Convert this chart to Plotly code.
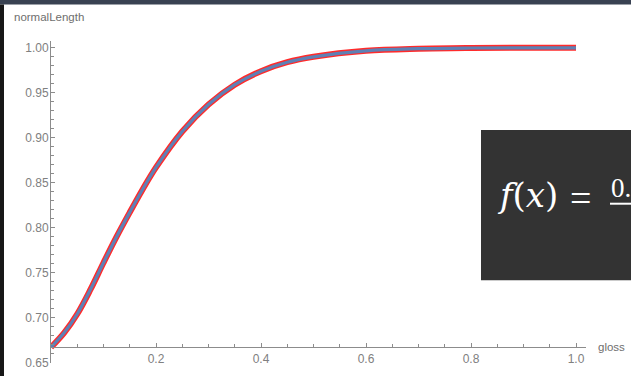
import plotly.graph_objects as go

# Data
gloss = [0.0, 0.025, 0.05, 0.075, 0.1, 0.125, 0.15, 0.175, 0.2, 0.25, 0.3, 0.35, 0.4, 0.45,
         0.5, 0.6, 0.7, 0.8, 0.9, 1.0]
normal_length = [0.667, 0.683, 0.704, 0.731, 0.761, 0.790, 0.817, 0.843, 0.867, 0.907,
                 0.937, 0.959, 0.974, 0.984, 0.990, 0.9967, 0.999, 0.9998, 1.000, 1.000]
x_ticks = [0.2, 0.4, 0.6, 0.8, 1.0]
x_tick_labels = ["0.2", "0.4", "0.6", "0.8", "1.0"]
y_ticks = [0.65, 0.70, 0.75, 0.80, 0.85, 0.90, 0.95, 1.00]
y_tick_labels = ["0.65", "0.70", "0.75", "0.80", "0.85", "0.90", "0.95", "1.00"]

W, H = 631, 383
def px(x):
    return x / W
def py(y):
    return 1 - y / H

fig = go.Figure()
fig.add_trace(go.Scatter(x=gloss, y=normal_length, mode="lines",
                         line=dict(color="rgba(255,20,20,0.9)", width=6, shape="spline", smoothing=1.0),
                         hoverinfo="skip", showlegend=False))
fig.add_trace(go.Scatter(x=gloss, y=normal_length, mode="lines",
                         line=dict(color="#5e81b5", width=3.2, shape="spline", smoothing=1.0),
                         showlegend=False))

axis_col = "#8c8c8c"
lab_font = dict(family="Liberation Sans, Arial", size=12, color="#808080")

fig.update_layout(
    width=W, height=H, autosize=False,
    margin=dict(l=0, r=0, t=0, b=0, pad=0),
    paper_bgcolor="white", plot_bgcolor="white",
    xaxis=dict(domain=[px(51), px(586)], range=[0, 535 / 525], anchor="free",
               position=py(353.3), showgrid=False, zeroline=False,
               showline=True, linecolor=axis_col, linewidth=1,
               tickmode="array", tickvals=x_ticks, ticktext=x_tick_labels,
               ticks="inside", ticklen=4, tickcolor=axis_col, tickfont=lab_font,
               ticklabelstandoff=1,
               minor=dict(dtick=0.05, tick0=0, ticks="inside", ticklen=2.5, tickcolor=axis_col)),
    yaxis=dict(domain=[py(369.3), py(42)], range=[0.65, 0.65 + (369.3 - 42) / 916],
               anchor="x", showgrid=False, zeroline=False,
               showline=True, linecolor=axis_col, linewidth=1,
               tickmode="array", tickvals=y_ticks, ticktext=y_tick_labels,
               ticks="inside", ticklen=4, tickcolor=axis_col, tickfont=lab_font,
               ticklabelstandoff=-1,
               minor=dict(dtick=0.01, tick0=0.65, ticks="inside", ticklen=2.5, tickcolor=axis_col)),
    shapes=[
        dict(type="rect", xref="paper", yref="paper", x0=0, x1=1, y0=py(4.5), y1=1,
             fillcolor="#394252", line=dict(width=0), layer="above"),
        dict(type="rect", xref="paper", yref="paper", x0=0, x1=px(4), y0=0, y1=py(4.5),
             fillcolor="#171717", line=dict(width=0), layer="above"),
        dict(type="rect", xref="paper", yref="paper", x0=px(481), x1=1, y0=py(285.5), y1=py(132.5),
             fillcolor="#333333", line=dict(width=0), layer="above"),
        dict(type="line", xref="paper", yref="paper", x0=px(610), x1=1, y0=py(207.5), y1=py(207.5),
             line=dict(color="white", width=2), layer="above"),
    ],
    annotations=[
        dict(text="normalLength", xref="paper", yref="paper", x=px(12), y=py(17),
             xanchor="left", yanchor="middle", showarrow=False,
             font=dict(family="Liberation Sans, Arial", size=11.5, color="#6e6e6e")),
        dict(text="gloss", xref="paper", yref="paper", x=px(596), y=py(353),
             xanchor="left", yanchor="middle", showarrow=False,
             font=dict(family="Liberation Sans, Arial", size=11.5, color="#6e6e6e")),
        dict(text="<i>f</i>(<i>x</i>)", xref="paper", yref="paper", x=px(495), y=py(199),
             xanchor="left", yanchor="middle", showarrow=False,
             font=dict(family="DejaVu Serif, Liberation Serif", size=34, color="white")),
        dict(text="=", xref="paper", yref="paper", x=px(568), y=py(202),
             xanchor="left", yanchor="middle", showarrow=False,
             font=dict(family="Liberation Serif, DejaVu Serif", size=38, color="white")),
        dict(text="0.", xref="paper", yref="paper", x=px(609), y=py(191),
             xanchor="left", yanchor="middle", showarrow=False,
             font=dict(family="Liberation Serif, DejaVu Serif", size=27, color="white")),
    ],
)

fig.write_html("out.html")
